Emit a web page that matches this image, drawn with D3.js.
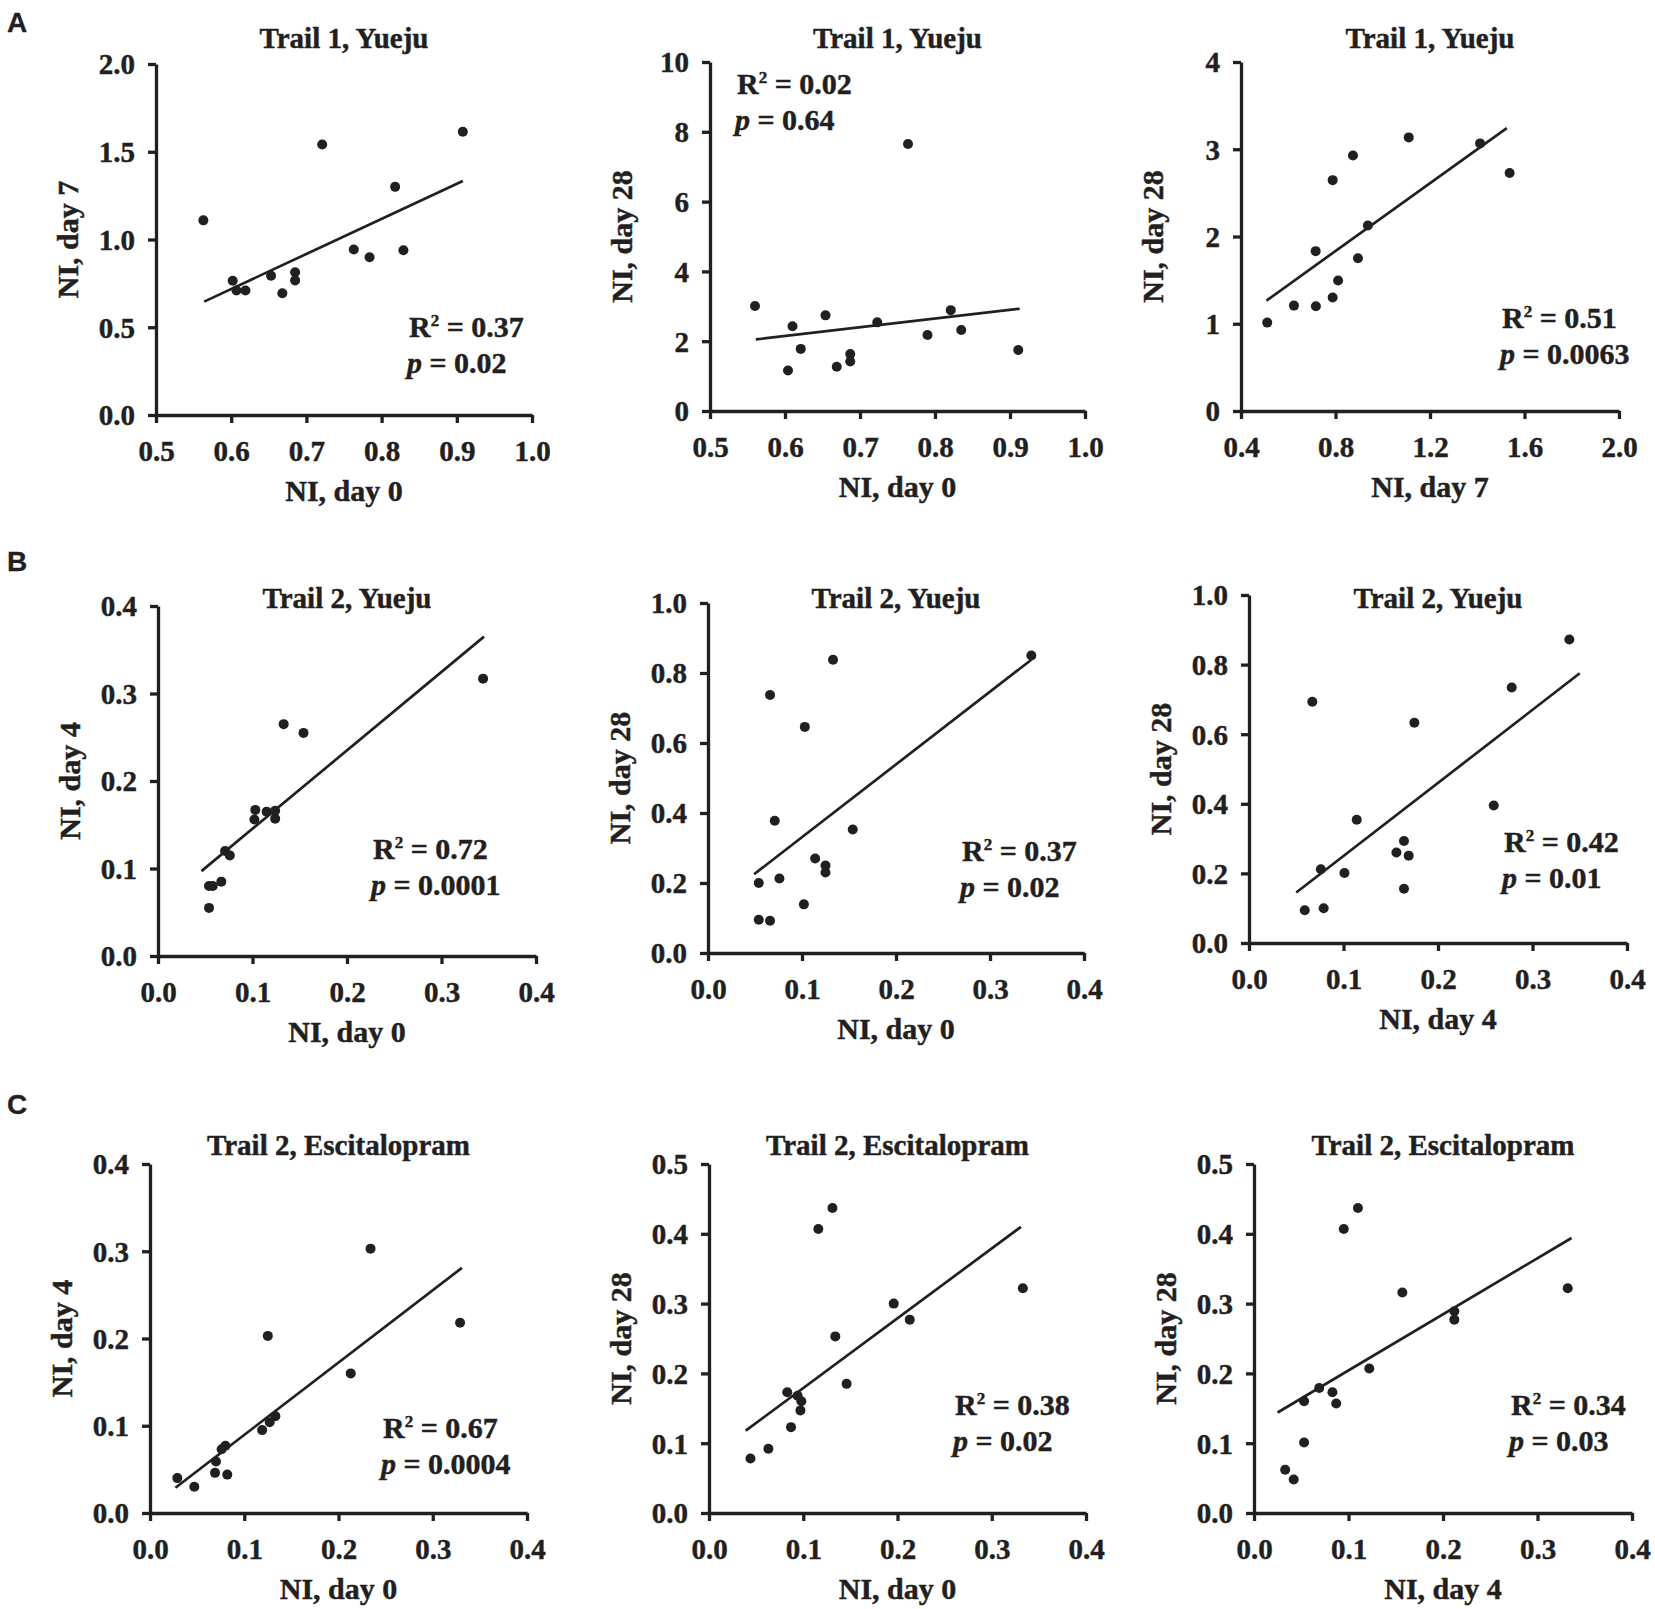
<!DOCTYPE html>
<html>
<head>
<meta charset="utf-8">
<script src="https://cdn.jsdelivr.net/npm/d3@7.9.0/dist/d3.min.js"></script>
<style>
  html, body { margin: 0; padding: 0; background: #fff; }
  svg text { font-family: "Times New Roman", "Liberation Serif", serif; font-weight: bold; fill: #231f20; stroke: #231f20; stroke-width: 0.45px; }
  .panel-letter { font-family: Arial, "Liberation Sans", sans-serif !important; font-size: 28px; stroke-width: 0.3px; }
  .tick text { font-size: 29px; }
  .axis path, .axis line { stroke: #231f20; stroke-width: 3.3; }
  .axis-title { font-size: 30px; }
  .panel-title { font-size: 29px; }
  .stat { font-size: 30px; }
  .fit { stroke: #231f20; stroke-width: 2.7; }
  .dot { fill: #231f20; }
</style>
</head>
<body>
<div id="chart"></div>
<script>
// ---- data ----
const panelTitles = [
  "Trail 1, Yueju", "Trail 1, Yueju", "Trail 1, Yueju",
  "Trail 2, Yueju", "Trail 2, Yueju", "Trail 2, Yueju",
  "Trail 2, Escitalopram", "Trail 2, Escitalopram", "Trail 2, Escitalopram"
];
const xTitles = ["NI, day 0", "NI, day 0", "NI, day 7", "NI, day 0", "NI, day 0", "NI, day 4", "NI, day 0", "NI, day 0", "NI, day 4"];
const yTitles = ["NI, day 7", "NI, day 28", "NI, day 28", "NI, day 4", "NI, day 28", "NI, day 28", "NI, day 4", "NI, day 28", "NI, day 28"];

const xTickValues = [
  [0.5, 0.6, 0.7, 0.8, 0.9, 1.0], [0.5, 0.6, 0.7, 0.8, 0.9, 1.0], [0.4, 0.8, 1.2, 1.6, 2.0],
  [0, 0.1, 0.2, 0.3, 0.4], [0, 0.1, 0.2, 0.3, 0.4], [0, 0.1, 0.2, 0.3, 0.4],
  [0, 0.1, 0.2, 0.3, 0.4], [0, 0.1, 0.2, 0.3, 0.4], [0, 0.1, 0.2, 0.3, 0.4]
];
const yTickValues = [
  [0, 0.5, 1.0, 1.5, 2.0], [0, 2, 4, 6, 8, 10], [0, 1, 2, 3, 4],
  [0, 0.1, 0.2, 0.3, 0.4], [0, 0.2, 0.4, 0.6, 0.8, 1.0], [0, 0.2, 0.4, 0.6, 0.8, 1.0],
  [0, 0.1, 0.2, 0.3, 0.4], [0, 0.1, 0.2, 0.3, 0.4, 0.5], [0, 0.1, 0.2, 0.3, 0.4, 0.5]
];
const xTickFormats = [".1f", ".1f", ".1f", ".1f", ".1f", ".1f", ".1f", ".1f", ".1f"];
const yTickFormats = [".1f", "d", "d", ".1f", ".1f", ".1f", ".1f", ".1f", ".1f"];

const rSquared = ["0.37", "0.02", "0.51", "0.72", "0.37", "0.42", "0.67", "0.38", "0.34"];
const pValues = ["0.02", "0.64", "0.0063", "0.0001", "0.02", "0.01", "0.0004", "0.02", "0.03"];

const pointsA1 = [[0.563,1.109],[0.721,1.541],[0.908,1.614],[0.818,1.300],[0.763,0.943],[0.784,0.899],[0.829,0.939],
  [0.602,0.765],[0.607,0.709],[0.619,0.709],[0.653,0.793],[0.668,0.694],[0.685,0.813],[0.685,0.767]];
const pointsA2 = [[0.560,3.01],[0.610,2.43],[0.654,2.74],[0.621,1.78],[0.604,1.16],[0.669,1.27],[0.687,1.63],
  [0.687,1.42],[0.723,2.54],[0.764,7.65],[0.790,2.18],[0.821,2.89],[0.835,2.32],[0.911,1.75]];
const pointsA3 = [[0.511,1.013],[0.624,1.208],[0.717,1.201],[0.788,1.300],[0.811,1.495],[0.716,1.832],[0.788,2.646],
  [0.874,2.929],[0.895,1.751],[0.937,2.126],[1.110,3.136],[1.412,3.067],[1.537,2.727]];
const pointsB1 = [[0.344,0.317],[0.133,0.265],[0.154,0.255],[0.103,0.167],[0.102,0.156],[0.115,0.165],[0.124,0.166],
  [0.124,0.157],[0.071,0.120],[0.076,0.115],[0.067,0.085],[0.054,0.080],[0.058,0.080],[0.054,0.055]];
const pointsB2 = [[0.344,0.850],[0.133,0.838],[0.066,0.737],[0.103,0.646],[0.071,0.378],[0.154,0.353],[0.114,0.270],
  [0.125,0.250],[0.125,0.230],[0.076,0.213],[0.054,0.200],[0.102,0.139],[0.054,0.095],[0.066,0.092]];
const pointsB3 = [[0.339,0.872],[0.278,0.734],[0.067,0.693],[0.175,0.633],[0.259,0.395],[0.114,0.354],[0.164,0.293],
  [0.156,0.260],[0.169,0.251],[0.164,0.156],[0.076,0.212],[0.101,0.201],[0.059,0.094],[0.079,0.100]];
const pointsC1 = [[0.029,0.040],[0.047,0.030],[0.070,0.059],[0.069,0.046],[0.082,0.044],[0.076,0.073],[0.080,0.077],
  [0.119,0.095],[0.127,0.104],[0.133,0.111],[0.125,0.203],[0.213,0.160],[0.234,0.303],[0.329,0.218]];
const pointsC2 = [[0.131,0.437],[0.116,0.407],[0.333,0.322],[0.196,0.300],[0.213,0.277],[0.134,0.253],[0.146,0.185],
  [0.083,0.173],[0.094,0.168],[0.098,0.160],[0.097,0.147],[0.087,0.123],[0.063,0.092],[0.044,0.078]];
const pointsC3 = [[0.110,0.437],[0.095,0.407],[0.332,0.322],[0.157,0.316],[0.212,0.289],[0.212,0.277],[0.122,0.207],
  [0.069,0.179],[0.083,0.173],[0.087,0.157],[0.053,0.160],[0.053,0.101],[0.033,0.062],[0.042,0.048]];

// regression line end points [x0, y0, x1, y1] as drawn
const fitLines = [
  [0.564, 0.646, 0.908, 1.333], [0.561, 2.05, 0.913, 2.93], [0.508, 1.266, 1.525, 3.243],
  [0.046, 0.097, 0.345, 0.365], [0.049, 0.225, 0.344, 0.838], [0.050, 0.145, 0.350, 0.775],
  [0.027, 0.029, 0.331, 0.281], [0.039, 0.118, 0.331, 0.410], [0.025, 0.144, 0.336, 0.394]
];

const panelLetters = ["A", "B", "C"];

// ---- layout ----
const W = 1655, H = 1609;
const frames = [
  { x0: 156, x1: 532, y0: 64, y1: 415, titleY: 48, statX: 409, statY: 337 },
  { x0: 710, x1: 1085, y0: 62, y1: 411, titleY: 48, statX: 737, statY: 94 },
  { x0: 1241, x1: 1619, y0: 62, y1: 411, titleY: 48, statX: 1502, statY: 328 },
  { x0: 158, x1: 536, y0: 606, y1: 956, titleY: 608, statX: 373, statY: 859 },
  { x0: 708, x1: 1084, y0: 603, y1: 953, titleY: 608, statX: 962, statY: 861 },
  { x0: 1249, x1: 1627, y0: 595, y1: 943, titleY: 608, statX: 1504, statY: 852 },
  { x0: 150, x1: 527, y0: 1164, y1: 1513, titleY: 1155, statX: 383, statY: 1438 },
  { x0: 709, x1: 1086, y0: 1164, y1: 1513, titleY: 1155, statX: 955, statY: 1415 },
  { x0: 1254, x1: 1632, y0: 1164, y1: 1513, titleY: 1155, statX: 1511, statY: 1415 }
];
const letterPos = [{ x: 7, y: 32 }, { x: 7, y: 571 }, { x: 7, y: 1114 }];

const allPoints = [pointsA1, pointsA2, pointsA3, pointsB1, pointsB2, pointsB3, pointsC1, pointsC2, pointsC3];

const svg = d3.select("#chart")
  .append("svg")
  .attr("width", W)
  .attr("height", H)
  .attr("viewBox", `0 0 ${W} ${H}`);

svg.selectAll("text.panel-letter")
  .data(panelLetters)
  .join("text")
    .attr("class", "panel-letter")
    .attr("x", (d, i) => letterPos[i].x)
    .attr("y", (d, i) => letterPos[i].y)
    .text(d => d);

function drawPanel(i) {
  const f = frames[i];
  const xt = xTickValues[i], yt = yTickValues[i];

  const x = d3.scaleLinear()
    .domain([xt[0], xt[xt.length - 1]])
    .range([f.x0, f.x1]);
  const y = d3.scaleLinear()
    .domain([yt[0], yt[yt.length - 1]])
    .range([f.y1, f.y0]);

  const g = svg.append("g").attr("class", "panel");

  g.append("g")
    .attr("class", "axis x-axis")
    .attr("transform", `translate(0, ${f.y1})`)
    .call(d3.axisBottom(x).tickValues(xt).tickFormat(d3.format(xTickFormats[i])).tickSize(8).tickSizeOuter(0).tickPadding(12));

  g.append("g")
    .attr("class", "axis y-axis")
    .attr("transform", `translate(${f.x0}, 0)`)
    .call(d3.axisLeft(y).tickValues(yt).tickFormat(d3.format(yTickFormats[i])).tickSize(8).tickSizeOuter(0).tickPadding(13));

  // tick labels sit on a baseline below the axis
  g.selectAll(".x-axis .tick text").attr("dy", null).attr("y", 46);
  g.selectAll(".y-axis .tick text").attr("dy", "0.34em");

  const fl = fitLines[i];
  g.append("line")
    .attr("class", "fit")
    .attr("x1", x(fl[0]))
    .attr("y1", y(fl[1]))
    .attr("x2", x(fl[2]))
    .attr("y2", y(fl[3]));

  g.selectAll("circle.dot")
    .data(allPoints[i])
    .join("circle")
      .attr("class", "dot")
      .attr("cx", d => x(d[0]))
      .attr("cy", d => y(d[1]))
      .attr("r", 5);

  g.append("text")
    .attr("class", "panel-title")
    .attr("x", (f.x0 + f.x1) / 2)
    .attr("y", f.titleY)
    .attr("text-anchor", "middle")
    .text(panelTitles[i]);

  g.append("text")
    .attr("class", "axis-title")
    .attr("x", (f.x0 + f.x1) / 2)
    .attr("y", f.y1 + 86)
    .attr("text-anchor", "middle")
    .text(xTitles[i]);

  g.append("text")
    .attr("class", "axis-title")
    .attr("transform", `translate(${f.x0 - 78}, ${(f.y0 + f.y1) / 2}) rotate(-90)`)
    .attr("text-anchor", "middle")
    .text(yTitles[i]);

  const r2 = g.append("text")
    .attr("class", "stat")
    .attr("x", f.statX)
    .attr("y", f.statY);
  r2.append("tspan").text("R");
  r2.append("tspan").attr("font-size", "17px").attr("dy", -11).text("2");
  r2.append("tspan").attr("dy", 11).text(` = ${rSquared[i]}`);

  const pv = g.append("text")
    .attr("class", "stat")
    .attr("x", f.statX - 2)
    .attr("y", f.statY + 36);
  pv.append("tspan").attr("font-style", "italic").text("p");
  pv.append("tspan").text(` = ${pValues[i]}`);
}

d3.range(9).forEach(drawPanel);
</script>
</body>
</html>
